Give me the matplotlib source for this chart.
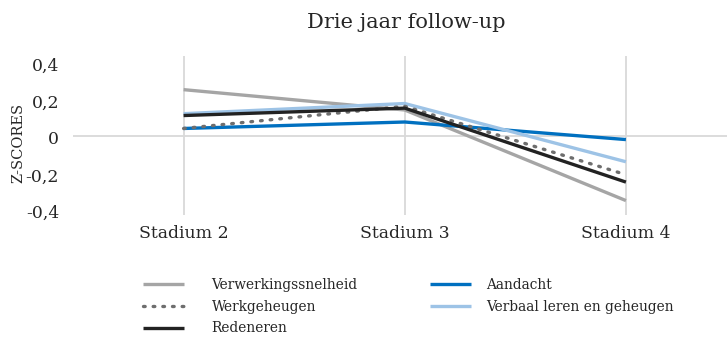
import matplotlib
matplotlib.use("Agg")
import matplotlib.pyplot as plt
import matplotlib.transforms as mtransforms

# === Data ===
stadia = ["Stadium 2", "Stadium 3", "Stadium 4"]
verwerkingssnelheid = [0.25, 0.14, -0.35]
werkgeheugen = [0.04, 0.16, -0.21]
redeneren = [0.11, 0.15, -0.25]
aandacht = [0.04, 0.075, -0.02]
verbaal = [0.12, 0.175, -0.14]

yticks = [-0.4, -0.2, 0, 0.2, 0.4]
ytick_labels = ["-0,4", "-0,2", "0", "0,2", "0,4"]

# === Style ===
FONT = "DejaVu Serif"
plt.rcParams["font.family"] = FONT
TXT = "#262626"
GRID = "#d9d9d9"
LW = 2.4

fig = plt.figure(figsize=(7.27, 3.38), dpi=100)
ax = fig.add_axes([73 / 727, 1 - 215 / 338, (727 - 73) / 727, (215 - 56) / 338])

x = list(range(len(stadia)))
series = [
    ("Verwerkingssnelheid", verwerkingssnelheid, dict(color="#a5a5a5", ls="-")),
    ("Werkgeheugen", werkgeheugen, dict(color="#6e6e6e", ls=(0, (0.5, 2.4)), dash_capstyle="round")),
    ("Redeneren", redeneren, dict(color="#222222", ls="-")),
    ("Aandacht", aandacht, dict(color="#0070c0", ls="-")),
    ("Verbaal leren en geheugen", verbaal, dict(color="#9dc3e6", ls="-")),
]
lines = {}
# draw order: back to front
for name, vals, kw in [series[0], series[3], series[4], series[1], series[2]]:
    lines[name], = ax.plot(x, vals, lw=LW, label=name, zorder=3, solid_capstyle="butt", **kw)

# gridlines at categories and zero line
for xi in x:
    ax.axvline(xi, color=GRID, lw=1.3, zorder=1)
ax.axhline(0, color=GRID, lw=1.3, zorder=1)

ax.set_xlim(-0.5, (727 - 184) / 221)
ax.set_ylim(-0.428, 0.432)
ax.set_yticks(yticks)
ax.set_yticklabels(ytick_labels)
ax.set_xticks(x)
ax.set_xticklabels(stadia)
ax.tick_params(length=0, labelsize=12.4, colors=TXT)
ax.tick_params(axis="y", pad=10)
ax.tick_params(axis="x", pad=7)
for s in ax.spines.values():
    s.set_visible(False)

# nudge y tick labels down a little
shift = mtransforms.ScaledTranslation(0, -2 / 100, fig.dpi_scale_trans)
for lbl in ax.get_yticklabels():
    lbl.set_transform(lbl.get_transform() + shift)

ax.set_ylabel("Z-SCORES", fontsize=10.5, color=TXT)
ax.yaxis.set_label_coords(-0.073, 0.456)
fig.text(406 / 727, 1 - 22 / 338, "Drie jaar follow-up", ha="center", va="center",
         fontsize=15, color=TXT)

# legend: two separate columns
leg_kw = dict(loc="upper left", frameon=False, fontsize=9.9, handlelength=2.98,
              labelspacing=0.56, borderpad=0, borderaxespad=0, labelcolor=TXT)
col1 = [s[0] for s in series[:3]]
col2 = [s[0] for s in series[3:]]
fig.legend([lines[n] for n in col1], col1, bbox_to_anchor=(143 / 727, 1 - 278 / 338),
           handletextpad=2.0, **leg_kw)
fig.legend([lines[n] for n in col2], col2, bbox_to_anchor=(430 / 727, 1 - 278 / 338),
           handletextpad=1.1, **leg_kw)

fig.savefig("out.png", dpi=100)
